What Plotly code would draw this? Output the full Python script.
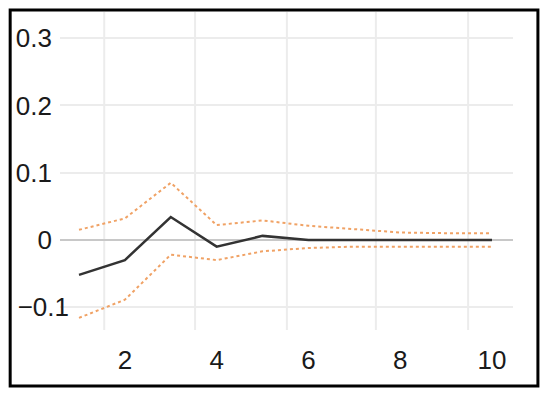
import plotly.graph_objects as go

periods = [1, 2, 3, 4, 5, 6, 7, 8, 9, 10]
response = [-0.052, -0.030, 0.034, -0.010, 0.006, 0.0, 0.0, 0.0, 0.0, 0.0]
upper = [0.015, 0.032, 0.085, 0.022, 0.029, 0.021, 0.016, 0.011, 0.010, 0.010]
lower = [-0.116, -0.089, -0.022, -0.030, -0.017, -0.012, -0.010, -0.010, -0.010, -0.010]

x_ticks = [2, 4, 6, 8, 10]
y_ticks_pos = [0, 0.1, 0.2, 0.3]
y_text_pos = ["0", "0.1", "0.2", "0.3"]
y_ticks_neg = [-0.1]
y_text_neg = ["\u22120.1"]
grid_x = [1.55, 3.53, 5.53, 7.47, 9.48]

band_color = "#f0a265"
label_font = dict(family="Liberation Sans", size=26, color="#1a1a1a")

fig = go.Figure()
fig.add_trace(go.Scatter(x=periods, y=upper, mode="lines",
                         line=dict(color=band_color, width=2, dash="3px,3px"),
                         showlegend=False, hoverinfo="skip"))
fig.add_trace(go.Scatter(x=periods, y=lower, mode="lines",
                         line=dict(color=band_color, width=2, dash="3px,3px"),
                         showlegend=False, hoverinfo="skip"))
fig.add_trace(go.Scatter(x=periods, y=response, mode="lines",
                         line=dict(color="#333333", width=2.5),
                         showlegend=False))

shapes = []
for gx in grid_x:
    shapes.append(dict(type="line", xref="x", yref="paper", x0=gx, x1=gx, y0=0, y1=1,
                       line=dict(color="#ececec", width=2), layer="below"))
shapes.append(dict(type="rect", xref="paper", yref="paper",
                   x0=-0.110, x1=1.055, y0=-0.176, y1=1.006,
                   line=dict(color="black", width=3), fillcolor="rgba(0,0,0,0)"))

y_range = [-0.134, 0.339]

fig.update_layout(
    width=534, height=382,
    margin=dict(l=52, r=29, t=4, b=60, autoexpand=False),
    paper_bgcolor="white", plot_bgcolor="white",
    font=label_font,
    shapes=shapes,
    xaxis=dict(range=[0.586, 10.458], tickvals=x_ticks, showgrid=False, zeroline=False,
               showline=False, ticks="", ticklabelstandoff=12, automargin=False,
               tickfont=label_font),
    yaxis=dict(range=y_range, tickvals=y_ticks_pos + y_ticks_neg,
               ticktext=y_text_pos + [""],
               showgrid=True, gridcolor="#ececec", gridwidth=2,
               zeroline=True, zerolinecolor="#c8c8c8", zerolinewidth=2,
               showline=False, ticks="", ticklabelstandoff=7, automargin=False,
               tickfont=label_font),
    yaxis2=dict(range=y_range, overlaying="y", side="left", anchor="x",
                tickvals=y_ticks_neg, ticktext=y_text_neg,
                showgrid=False, zeroline=False, showline=False, ticks="",
                ticklabelstandoff=-10, automargin=False, tickfont=label_font),
)
fig.add_trace(go.Scatter(x=[periods[0]], y=[lower[0]], yaxis="y2", mode="lines",
                         line=dict(color="rgba(0,0,0,0)"), showlegend=False,
                         hoverinfo="skip"))

fig.write_html("out.html")
